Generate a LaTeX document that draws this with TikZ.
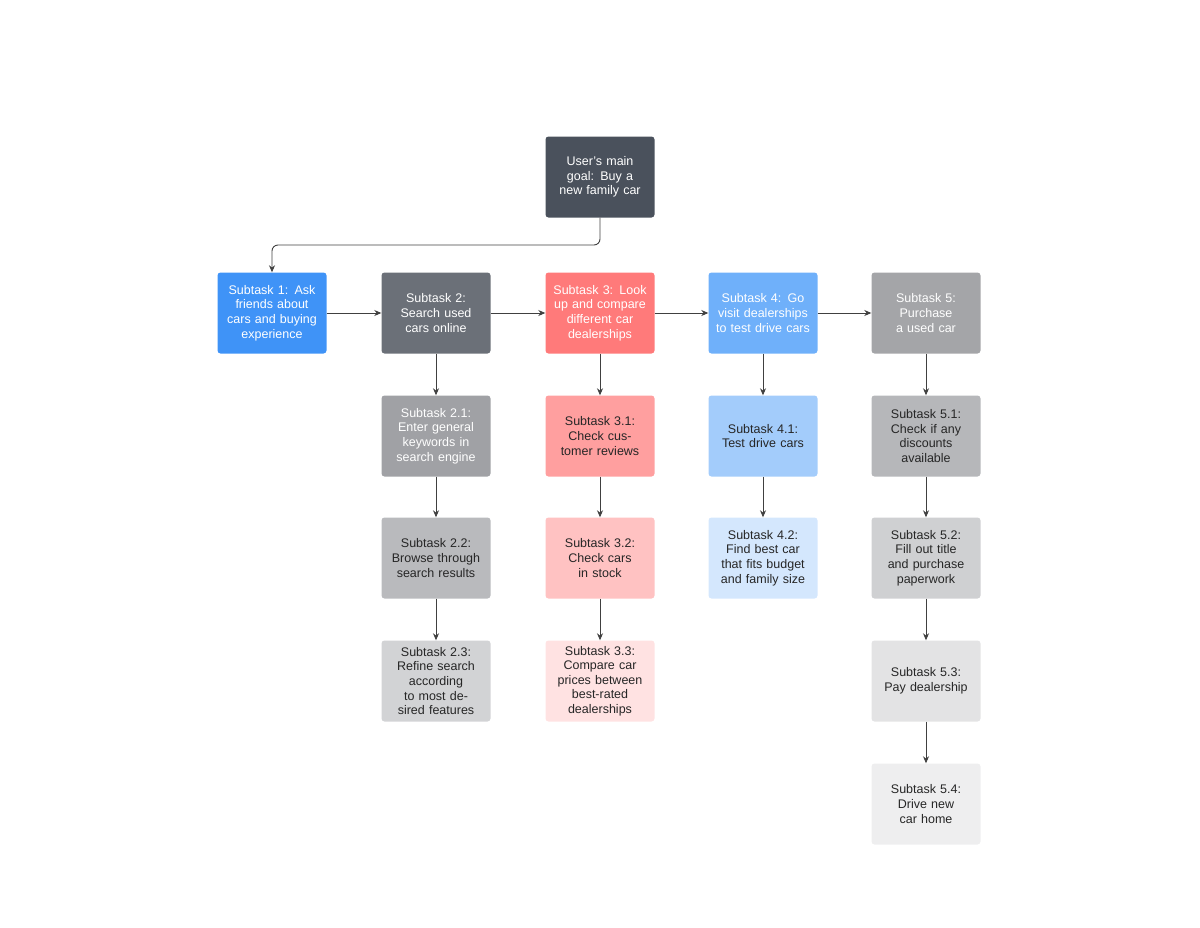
\documentclass[tikz,border=0pt]{standalone}
\usetikzlibrary{arrows.meta}
\usepackage{fontspec}
\setmainfont{Liberation Sans}
\begin{document}
\begin{tikzpicture}[x=1pt,y=-1pt,
 box/.style={draw=none,rounded corners=3pt,minimum width=109pt,minimum height=81pt,text width=96pt,align=center,font=\fontsize{12.5}{14.6}\selectfont,inner sep=2pt},
 wt/.style={box,text=white}, bk/.style={box,text=black!85},
 arr/.style={draw=black!75,line width=0.9pt,-{Stealth[length=7pt,width=6pt]}}]
\useasboundingbox (0,0) rectangle (1200,927);
\definecolor{cg}{HTML}{4A515C}\definecolor{c1}{HTML}{3F93F7}\definecolor{c2}{HTML}{6B7078}
\definecolor{c3}{HTML}{FF7A7A}\definecolor{c4}{HTML}{6FB0FA}\definecolor{c5}{HTML}{A4A5A8}
\node[wt,fill=cg] (g) at (600,177) {User's main goal: Buy a new family car};
\node[wt,fill=c1] (s1) at (272,313) {Subtask 1: Ask friends about cars and buying experience};
\node[wt,fill=c2] (s2) at (436,313) {Subtask 2: Search used cars online};
\node[wt,fill=c3] (s3) at (600,313) {Subtask 3: Look up and compare different car dealerships};
\node[wt,fill=c4] (s4) at (763,313) {Subtask 4: Go visit dealerships to test drive cars};
\node[wt,fill=c5] (s5) at (926,313) {Subtask 5: Purchase a used car};
\node[bk,fill={rgb,255:red,160;green,161;blue,165},text=white] (s21) at (436,436) {Subtask 2.1: Enter general keywords in search engine};
\node[bk,fill={rgb,255:red,185;green,186;blue,189}] (s22) at (436,558) {Subtask 2.2: Browse through search results};
\node[bk,fill={rgb,255:red,210;green,211;blue,213}] (s23) at (436,681) {Subtask 2.3: Refine search according to most desired features};
\node[bk,fill={rgb,255:red,255;green,159;blue,159}] (s31) at (600,436) {Subtask 3.1: Check customer reviews};
\node[bk,fill={rgb,255:red,255;green,194;blue,194}] (s32) at (600,558) {Subtask 3.2: Check cars in stock};
\node[bk,fill={rgb,255:red,255;green,226;blue,226}] (s33) at (600,681) {Subtask 3.3: Compare car prices between best-rated dealerships};
\node[bk,fill={rgb,255:red,163;green,204;blue,251}] (s41) at (763,436) {Subtask 4.1: Test drive cars};
\node[bk,fill={rgb,255:red,212;green,231;blue,253}] (s42) at (763,558) {Subtask 4.2: Find best car that fits budget and family size};
\node[bk,fill={rgb,255:red,182;green,183;blue,186}] (s51) at (926,436) {Subtask 5.1: Check if any discounts available};
\node[bk,fill={rgb,255:red,207;green,208;blue,210}] (s52) at (926,558) {Subtask 5.2: Fill out title and purchase paperwork};
\node[bk,fill={rgb,255:red,227;green,227;blue,228}] (s53) at (926,681) {Subtask 5.3: Pay dealership};
\node[bk,fill={rgb,255:red,238;green,238;blue,239}] (s54) at (926,804) {Subtask 5.4: Drive new car home};
\draw[arr,rounded corners=6pt] (g.south) -- (600,245) -- (272,245) -- (s1.north);
\foreach \a/\b in {s1/s2,s2/s3,s3/s4,s4/s5}{\draw[arr] (\a.east) -- (\b.west);}
\foreach \a/\b in {s2/s21,s21/s22,s22/s23,s3/s31,s31/s32,s32/s33,s4/s41,s41/s42,s5/s51,s51/s52,s52/s53,s53/s54}{\draw[arr] (\a.south) -- (\b.north);}
\end{tikzpicture}
\end{document}
